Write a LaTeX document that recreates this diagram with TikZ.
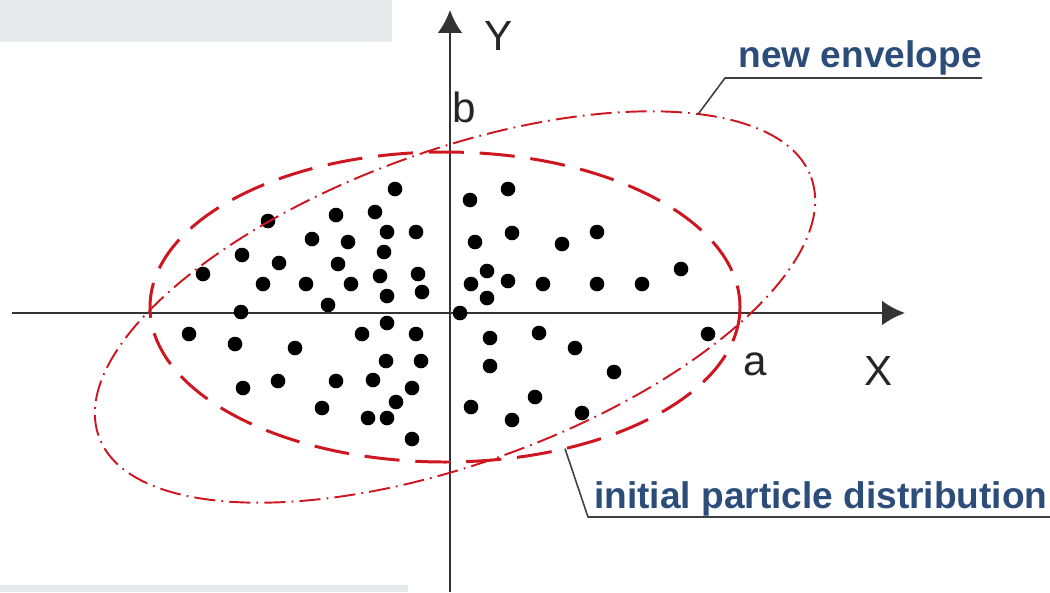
\documentclass[tikz,border=0pt]{standalone}
\usepackage{fontspec}
\setmainfont{Liberation Sans}
\usetikzlibrary{arrows.meta}
\definecolor{rougeenv}{RGB}{206,22,32}
\definecolor{bleutexte}{RGB}{44,76,122}
\definecolor{grisfond}{RGB}{230,234,235}
\begin{document}
\begin{tikzpicture}[x=0.02cm,y=-0.02cm]
	% Styles (MODIFIABLES)
	\tikzstyle{axe}=[-{Latex[length=13pt,width=14pt]},line width=1.3pt,black!80]
	\tikzstyle{initiale}=[rougeenv,line width=1.7pt,dash pattern=on 20pt off 9pt]
	\tikzstyle{enveloppe}=[rougeenv,line width=1.1pt,dash pattern=on 12pt off 3.5pt on 1pt off 3.5pt]
	\tikzstyle{particule}=[fill=black]
	\tikzstyle{etiquette}=[black!85,font=\fontsize{24}{28}\selectfont,inner sep=0pt]
	\tikzstyle{legende}=[bleutexte,font=\fontsize{21.1}{25}\selectfont\bfseries,inner sep=0pt]
	\tikzstyle{renvoi}=[black!75,line width=0.9pt]
	% Dimensions (MODIFIABLES)
	\def\RayonParticule{7.3}
	\def\DemiGrandInit{295}
	\def\DemiPetitInit{155}
	\def\DemiGrandEnv{379}
	\def\DemiPetitEnv{156}
	\def\Inclinaison{20}
	%
	\useasboundingbox (0,0) rectangle (1050,592);
	\fill[grisfond] (0,0) rectangle (392,42);
	\fill[grisfond] (0,585) rectangle (408,592);
	% Axes
	\coordinate (Xdeb) at (12,313);
	\coordinate (Xfin) at (905,313);
	\coordinate (Ydeb) at (450,592);
	\coordinate (Yfin) at (450,10);
	\draw[axe] (Xdeb)--(Xfin);
	\draw[axe] (Ydeb)--(Yfin);
	\node[etiquette,anchor=base] (Y) at (499,50) {Y};
	\node[etiquette,anchor=base] (b) at (464,122) {b};
	\node[etiquette,anchor=base] (a) at (755,375) {a};
	\node[etiquette,anchor=base] (X) at (879,385) {X};
	% Particules
	\foreach \px/\py in {203/274,242/255,268/221,279/263,263/284,306/284,312/239,328/305,
		336/215,348/242,338/264,351/284,375/212,395/189,384/252,387/232,416/232,380/276,
		418/274,387/296,422/292,241/312,189/334,235/344,295/348,243/388,278/381,336/381,
		322/408,362/334,387/323,416/334,386/361,421/361,373/380,412/388,396/402,368/418,
		387/418,412/439,470/200,508/189,475/242,512/233,562/244,597/232,681/269,487/271,
		471/284,508/281,543/284,597/284,642/284,487/298,460/313,490/338,539/333,575/348,
		490/366,614/372,535/397,471/407,512/420,582/413,708/334}
		\fill[particule] (\px,\py) circle (\RayonParticule);
	% Enveloppes
	\draw[initiale] (445,307) ellipse [x radius=\DemiGrandInit, y radius=\DemiPetitInit];
	\coordinate (Ainit) at ({445+\DemiGrandInit*cos(66)},{307+\DemiPetitInit*sin(66)});
	\begin{scope}[shift={(455,307)},rotate=\Inclinaison]
		\draw[enveloppe] (0,0) ellipse [x radius=\DemiGrandEnv, y radius=\DemiPetitEnv];
		\coordinate (Aenv) at ({\DemiGrandEnv*cos(39)},{-\DemiPetitEnv*sin(39)});
	\end{scope}
	% Renvois
	\coordinate (Cenv) at (725,78);
	\coordinate (Fenv) at (982,78);
	\draw[renvoi] (Aenv)--(Cenv)--(Fenv);
	\node[legende,anchor=base east] (Tenv) at (982,67) {new envelope};
	\coordinate (Cinit) at (588,517);
	\coordinate (Finit) at (1050,517);
	\draw[renvoi] (Ainit)--(Cinit)--(Finit);
	\node[legende,anchor=base west] (Tinit) at (594,508) {initial particle distribution};
\end{tikzpicture}
\end{document}
